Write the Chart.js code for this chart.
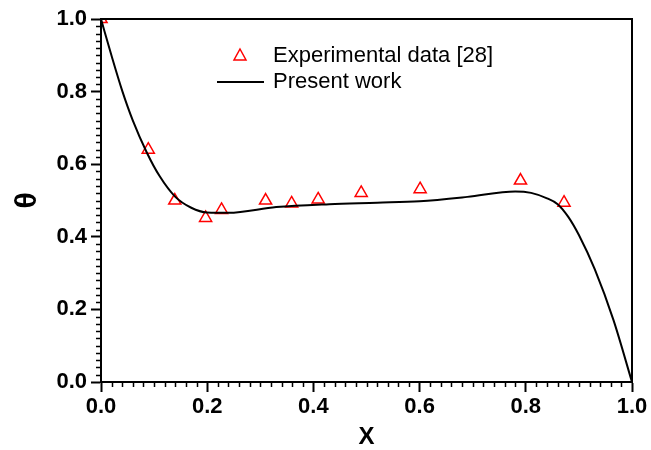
<!DOCTYPE html>
<html>
<head>
<meta charset="utf-8">
<script src="https://cdn.jsdelivr.net/npm/chart.js@4.4.1/dist/chart.umd.min.js"></script>
<style>
  html, body { margin: 0; padding: 0; background: #fff; }
  #wrap { width: 651px; height: 450px; }
</style>
</head>
<body>
<div id="wrap"><canvas id="chart"></canvas></div>
<script>
// experimental points
const expX = [0.0, 0.089, 0.139, 0.197, 0.227, 0.31, 0.359, 0.409, 0.49, 0.601, 0.79, 0.872];
const expY = [1.0, 0.64, 0.50, 0.452, 0.474, 0.50, 0.492, 0.503, 0.521, 0.531, 0.555, 0.494];

// present work curve
const curveX = [0, 0.02, 0.04, 0.06, 0.086, 0.11, 0.14, 0.17, 0.2, 0.24, 0.33, 0.43, 0.52, 0.6, 0.69, 0.78, 0.81, 0.84, 0.86, 0.88, 0.9, 0.93, 0.965, 1.0];
const curveY = [1.0, 0.898, 0.802, 0.72, 0.633, 0.568, 0.51, 0.48, 0.467, 0.466, 0.482, 0.49, 0.494, 0.498, 0.51, 0.525, 0.521, 0.506, 0.49, 0.455, 0.405, 0.31, 0.171, 0.0];

const tickLabels = ["0.0", "0.2", "0.4", "0.6", "0.8", "1.0"];

const FONT = "'Liberation Sans', Arial, sans-serif";

const boxAndTicks = {
  id: 'boxAndTicks',
  afterDraw(chart) {
    const ctx = chart.ctx;
    const a = chart.chartArea;
    const xs = chart.scales.x, ys = chart.scales.y;
    ctx.save();
    ctx.strokeStyle = '#000';
    ctx.lineWidth = 2;
    ctx.strokeRect(a.left, a.top, a.right - a.left, a.bottom - a.top);
    // minor ticks
    ctx.lineWidth = 1.5;
    ctx.beginPath();
    for (let i = 1; i < 50; i++) {
      if (i % 10 === 0) continue;
      const v = i / 50;
      const px = Math.round(xs.getPixelForValue(v)) + 0.5;
      ctx.moveTo(px, a.bottom);
      ctx.lineTo(px, a.bottom + 5);
      const py = Math.round(ys.getPixelForValue(v)) + 0.5;
      ctx.moveTo(a.left, py);
      ctx.lineTo(a.left - 5, py);
    }
    ctx.stroke();

    // legend
    ctx.font = '22px ' + FONT;
    ctx.fillStyle = '#000';
    ctx.textBaseline = 'middle';
    ctx.textAlign = 'left';
    ctx.fillText('Experimental data [28]', 273, 56);
    ctx.fillText('Present work', 273, 82);
    ctx.strokeStyle = '#000';
    ctx.lineWidth = 2;
    ctx.beginPath();
    ctx.moveTo(217, 82);
    ctx.lineTo(264, 82);
    ctx.stroke();
    ctx.strokeStyle = '#ff0000';
    ctx.lineWidth = 1.5;
    ctx.beginPath();
    ctx.moveTo(240, 49);
    ctx.lineTo(246, 60);
    ctx.lineTo(234, 60);
    ctx.closePath();
    ctx.stroke();
    ctx.restore();
  }
};

new Chart(document.getElementById('chart'), {
  type: 'scatter',
  data: {
    datasets: [
      {
        label: 'Present work',
        data: curveX.map((x, i) => ({ x: x, y: curveY[i] })),
        showLine: true,
        borderColor: '#000',
        borderWidth: 2,
        pointRadius: 0,
        cubicInterpolationMode: 'monotone',
        fill: false
      },
      {
        label: 'Experimental data [28]',
        data: expX.map((x, i) => ({ x: x, y: expY[i] })),
        pointStyle: 'triangle',
        pointRadius: 7,
        borderColor: '#ff0000',
        backgroundColor: 'rgba(0,0,0,0)',
        borderWidth: 1.5,
        clip: 0
      }
    ]
  },
  options: {
    responsive: true,
    maintainAspectRatio: false,
    animation: false,
    layout: { padding: { left: 5, right: 19, top: 19, bottom: 0 } },
    plugins: {
      legend: { display: false },
      tooltip: { enabled: false }
    },
    scales: {
      x: {
        type: 'linear',
        min: 0, max: 1,
        afterFit: s => { s.height = 68; },
        afterBuildTicks: s => { s.ticks = tickLabels.map(t => ({ value: parseFloat(t) })); },
        border: { color: '#000', width: 2 },
        grid: { drawOnChartArea: false, color: '#000', tickLength: 10, tickWidth: 2 },
        ticks: {
          color: '#000',
          padding: 2,
          maxRotation: 0,
          font: { family: FONT, size: 22, weight: 'bold' },
          callback: (v) => tickLabels[Math.round(v * 5)]
        },
        title: {
          display: true, text: 'X', color: '#000',
          font: { family: FONT, size: 24, weight: 'bold' },
          padding: { top: 0, bottom: -2 }
        }
      },
      y: {
        type: 'linear',
        min: 0, max: 1,
        afterFit: s => { s.width = 96; },
        afterBuildTicks: s => { s.ticks = tickLabels.map(t => ({ value: parseFloat(t) })); },
        border: { color: '#000', width: 2 },
        grid: { drawOnChartArea: false, color: '#000', tickLength: 10, tickWidth: 2 },
        ticks: {
          color: '#000',
          padding: 4,
          font: { family: FONT, size: 22, weight: 'bold' },
          callback: (v) => tickLabels[Math.round(v * 5)]
        },
        title: {
          display: true, text: 'θ', color: '#000',
          font: { family: FONT, size: 30, weight: 'bold' },
          padding: { top: 5, bottom: 0 }
        }
      }
    }
  },
  plugins: [boxAndTicks]
});
</script>
</body>
</html>
